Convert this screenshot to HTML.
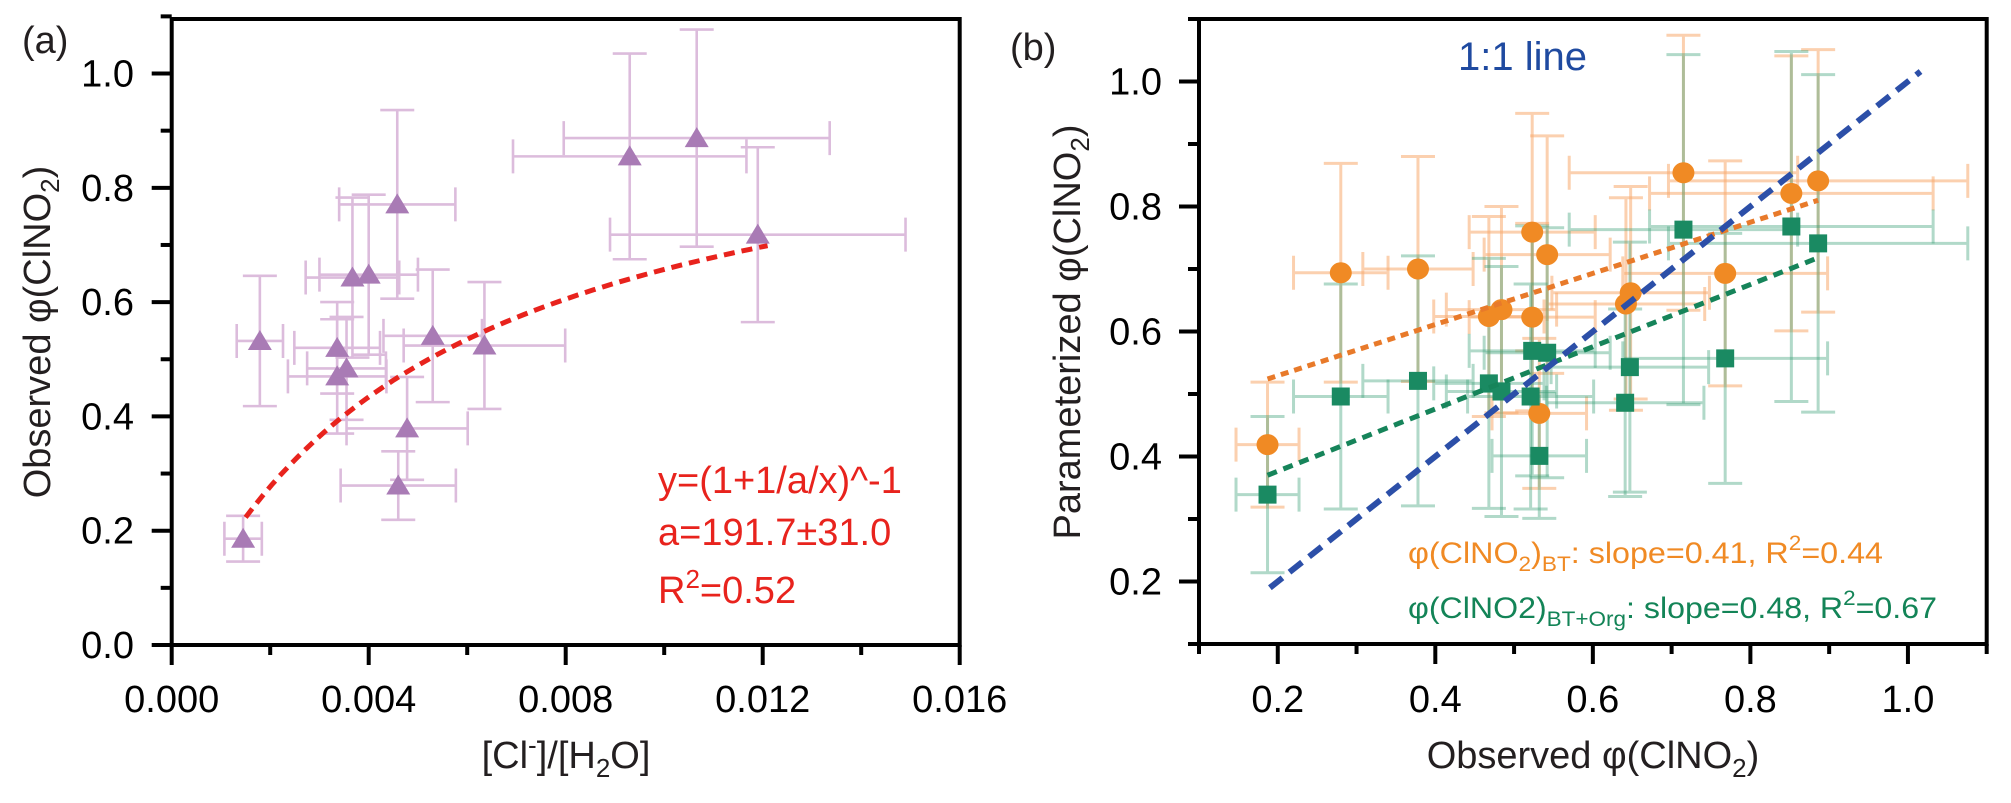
<!DOCTYPE html>
<html><head><meta charset="utf-8"><style>
html,body{margin:0;padding:0;background:#fff;}
svg{display:block;font-family:"Liberation Sans",Arial,sans-serif;}
</style></head><body>
<svg id="fig" width="2011" height="803" viewBox="0 0 2011 803" xmlns="http://www.w3.org/2000/svg">
<g id="pa"></g>
<g id="pb"></g>
</svg>
<script>
// ---------- Panel (a) data ----------
const aX    = [0.00145,0.00179,0.00336,0.00336,0.00355,0.00367,0.0040,0.00458,0.00478,0.0046,0.0053,0.00635,0.0093,0.01066,0.0119];
const aY    = [0.186,0.532,0.52,0.47,0.484,0.643,0.648,0.771,0.379,0.279,0.541,0.524,0.855,0.887,0.718];
const aXErr = [0.00038,0.00047,0.00087,0.001,0.0008,0.00095,0.001,0.00118,0.00123,0.00117,0.001,0.00164,0.00237,0.0027,0.003];
const aYErr = [0.04,0.114,0.08,0.1,0.09,0.14,0.14,0.165,0.09,0.06,0.116,0.111,0.18,0.19,0.153];
const aFitA = 191.7;
const aFitRange = [0.0015,0.0121];
const aXTicks = [0,0.004,0.008,0.012,0.016];
const aXTickLabels = ["0.000","0.004","0.008","0.012","0.016"];
const aYTicks = [0,0.2,0.4,0.6,0.8,1.0];
const aYTickLabels = ["0.0","0.2","0.4","0.6","0.8","1.0"];

// ---------- Panel (b) data ----------
const bObs     = [0.187,0.28,0.378,0.468,0.484,0.523,0.523,0.542,0.532,0.642,0.648,0.715,0.768,0.852,0.886];
const bBT      = [0.419,0.694,0.70,0.624,0.635,0.759,0.623,0.723,0.469,0.644,0.662,0.854,0.693,0.821,0.841];
const bBTErr   = [0.10,0.175,0.18,0.16,0.165,0.19,0.15,0.19,0.12,0.17,0.17,0.22,0.18,0.22,0.21];
const bObsGX   = [0.187,0.28,0.378,0.468,0.484,0.523,0.542,0.521,0.532,0.641,0.647,0.715,0.768,0.852,0.886];
const bOrg     = [0.339,0.496,0.521,0.517,0.504,0.569,0.566,0.496,0.401,0.486,0.543,0.763,0.557,0.768,0.741];
const bOrgErr  = [0.125,0.18,0.2,0.2,0.2,0.2,0.2,0.18,0.1,0.15,0.2,0.28,0.2,0.28,0.27];
const bXErr    = [0.04,0.06,0.07,0.07,0.07,0.08,0.08,0.08,0.06,0.1,0.1,0.145,0.13,0.18,0.19];
const bFitBTX  = [0.187,0.886];
const bFitBTY  = [0.524,0.81];
const bFitOrgX = [0.187,0.886];
const bFitOrgY = [0.37,0.718];
const bOneX    = [0.19,1.016];
const bTicks   = [0.2,0.4,0.6,0.8,1.0];
const bTickLabels = ["0.2","0.4","0.6","0.8","1.0"];

const NS="http://www.w3.org/2000/svg";
function mk(parent,tag,attrs){const e=document.createElementNS(NS,tag);for(const k in attrs)e.setAttribute(k,attrs[k]);parent.appendChild(e);return e;}

// ---------- Panel a axes ----------
const A={l:171.7,r:959.7,t:19,b:645,x0:0,x1:0.016,y0:0,y1:1.0954};
const ax=v=>A.l+(v-A.x0)/(A.x1-A.x0)*(A.r-A.l);
const ay=v=>A.b-(v-A.y0)/(A.y1-A.y0)*(A.b-A.t);
const pa=document.getElementById('pa');

// error bars
const aErrG=mk(pa,'g',{stroke:'#dcbcdc','stroke-width':2.6,fill:'none'});


for(let i=0;i<aX.length;i++){
  const cx=ax(aX[i]),cy=ay(aY[i]);
  const x1=ax(aX[i]-aXErr[i]),x2=ax(aX[i]+aXErr[i]),y1=ay(aY[i]+aYErr[i]),y2=ay(aY[i]-aYErr[i]);
  const p=mk(aErrG,'path',{d:`M${cx},${y1}V${y2}M${cx-17},${y1}h34M${cx-17},${y2}h34M${x1},${cy}H${x2}M${x1},${cy-17}v34M${x2},${cy-17}v34`});
  
  
}
// fit curve
let fd='';
for(let k=0;k<=60;k++){const x=aFitRange[0]+(aFitRange[1]-aFitRange[0])*k/60;const y=1/(1+1/(aFitA*x));fd+=(k?'L':'M')+ax(x).toFixed(1)+','+ay(y).toFixed(1);}
const fc=mk(pa,'path',{d:fd,stroke:'#e8231d','stroke-width':5,fill:'none','stroke-dasharray':'11 7'});


// triangles
for(let i=0;i<aX.length;i++){
  const cx=ax(aX[i]),cy=ay(aY[i]);
  const t=mk(pa,'path',{d:`M${cx},${cy-11}L${cx+12},${cy+9}L${cx-12},${cy+9}Z`,fill:'#a97bb5'});
  
  
}
// frame
const fa=mk(pa,'rect',{x:A.l,y:A.t,width:A.r-A.l,height:A.b-A.t,fill:'none',stroke:'#000','stroke-width':4});


for(let i=0;i<aXTicks.length;i++){
  const x=ax(aXTicks[i]);
  mk(pa,'line',{x1:x,y1:A.b,x2:x,y2:A.b+20,stroke:'#000','stroke-width':4});
  if(i<aXTicks.length-1){const m=ax((aXTicks[i]+aXTicks[i+1])/2);mk(pa,'line',{x1:m,y1:A.b,x2:m,y2:A.b+10,stroke:'#000','stroke-width':4});}
  const tl=mk(pa,'text',{x:x,y:712,'font-size':38,'text-anchor':'middle'});tl.textContent=aXTickLabels[i];
  
  
}
for(let i=0;i<aYTicks.length;i++){
  const y=ay(aYTicks[i]);
  mk(pa,'line',{x1:A.l-20,y1:y,x2:A.l,y2:y,stroke:'#000','stroke-width':4});
  const m=ay(aYTicks[i]+0.1);mk(pa,'line',{x1:A.l-11,y1:m,x2:A.l,y2:m,stroke:'#000','stroke-width':4});
  const tl=mk(pa,'text',{x:134,y:y+13,'font-size':38,'text-anchor':'end'});tl.textContent=aYTickLabels[i];
  
  
}

// ---------- Panel b axes ----------
const B={l:1199,r:1986.7,t:19,b:644,x0:0.1,x1:1.1,y0:0.1,y1:1.1};
const bx=v=>B.l+(v-B.x0)/(B.x1-B.x0)*(B.r-B.l);
const by=v=>B.b-(v-B.y0)/(B.y1-B.y0)*(B.b-B.t);
const pb=document.getElementById('pb');
function errs(xs,ys,ye,col,name){
  const g=mk(pb,'g',{stroke:col,'stroke-width':3,fill:'none'});
  for(let i=0;i<xs.length;i++){
    const cx=bx(xs[i]),cy=by(ys[i]);
    const x1=bx(xs[i]-bXErr[i]),x2=bx(xs[i]+bXErr[i]),y1=by(ys[i]+ye[i]),y2=by(ys[i]-ye[i]);
    const p=mk(g,'path',{d:`M${cx},${y1}V${y2}M${cx-17},${y1}h34M${cx-17},${y2}h34M${x1},${cy}H${x2}M${x1},${cy-17}v34M${x2},${cy-17}v34`});
    
    
  }
}
errs(bObs,bBT,bBTErr,'rgba(247,170,110,0.55)','error-bar-bt');
errs(bObsGX,bOrg,bOrgErr,'rgba(60,160,120,0.4)','error-bar-bt-org');
function dline(xs,ys,col,w,dash,name){
  const l=mk(pb,'line',{x1:bx(xs[0]),y1:by(ys[0]),x2:bx(xs[1]),y2:by(ys[1]),stroke:col,'stroke-width':w,'stroke-dasharray':dash});
  
  
}
for(let i=0;i<bObs.length;i++){
  const c=mk(pb,'ellipse',{cx:bx(bObs[i]),cy:by(bBT[i]),rx:11,ry:10.5,fill:'#f08a24'});
  
  
}
for(let i=0;i<bObsGX.length;i++){
  const s=mk(pb,'rect',{x:bx(bObsGX[i])-9,y:by(bOrg[i])-9,width:18,height:18,fill:'#1a8a62'});
  
  
}
dline(bFitBTX,bFitBTY,'#e87a2a',5,'8 6','fit-line-bt');
dline(bFitOrgX,bFitOrgY,'#16845a',5,'10 7','fit-line-bt-org');
dline(bOneX,bOneX,'#2c4fa8',6,'16 9','one-to-one-line');
const fb=mk(pb,'rect',{x:B.l,y:B.t,width:B.r-B.l,height:B.b-B.t,fill:'none',stroke:'#000','stroke-width':4});


for(let v=0.1;v<1.15;v+=0.1){
  const vv=Math.round(v*10)/10;const major=Math.abs(vv*10%2)<0.01;
  const x=bx(vv),y=by(vv);
  mk(pb,'line',{x1:x,y1:B.b,x2:x,y2:B.b+(major?20:10),stroke:'#000','stroke-width':4});
  mk(pb,'line',{x1:B.l-(major?20:11),y1:y,x2:B.l,y2:y,stroke:'#000','stroke-width':4});
}
for(let i=0;i<bTicks.length;i++){
  const tx=mk(pb,'text',{x:bx(bTicks[i]),y:712,'font-size':38,'text-anchor':'middle'});tx.textContent=bTickLabels[i];
  
  
  const ty=mk(pb,'text',{x:1162,y:by(bTicks[i])+13,'font-size':38,'text-anchor':'end'});ty.textContent=bTickLabels[i];
  
  
}
</script>
<svg width="0" height="0"></svg>
<script>
// static text overlays
const f=document.getElementById('fig');
f.insertAdjacentHTML('beforeend',`
<text x="22" y="53" font-size="38" fill="#231f20">(a)</text>
<text x="1010" y="60" font-size="38" fill="#231f20">(b)</text>
<text transform="translate(50,332) rotate(-90)" text-anchor="middle" font-size="38" fill="#231f20">Observed φ(ClNO<tspan font-size="26" dy="9">2</tspan><tspan dy="-9">)</tspan></text>
<text transform="translate(1080,332) rotate(-90)" text-anchor="middle" font-size="38" fill="#231f20">Parameterized φ(ClNO<tspan font-size="26" dy="9">2</tspan><tspan dy="-9">)</tspan></text>
<text x="566" y="768" text-anchor="middle" font-size="38" fill="#231f20">[Cl<tspan font-size="26" dy="-14">-</tspan><tspan dy="14">]/[H</tspan><tspan font-size="26" dy="9">2</tspan><tspan dy="-9">O]</tspan></text>
<text x="1593" y="768" text-anchor="middle" font-size="38" fill="#231f20">Observed φ(ClNO<tspan font-size="26" dy="9">2</tspan><tspan dy="-9">)</tspan></text>
<g fill="#e8231d" font-size="38">
<text x="658" y="493">y=(1+1/a/x)^-1</text>
<text x="658" y="545">a=191.7±31.0</text>
<text x="658" y="603">R<tspan font-size="26" dy="-15">2</tspan><tspan dy="15">=0.52</tspan></text>
</g>
<text x="1458" y="70" font-size="40" fill="#1f4aa0">1:1 line</text>
<text x="1408" y="563" font-size="30" fill="#f08a24" textLength="475" lengthAdjust="spacingAndGlyphs">φ(ClNO<tspan font-size="21" dy="8">2</tspan><tspan dy="-8">)</tspan><tspan font-size="21" dy="8">BT</tspan><tspan dy="-8">: slope=0.41, R</tspan><tspan font-size="21" dy="-13">2</tspan><tspan dy="13">=0.44</tspan></text>
<text x="1408" y="618" font-size="30" fill="#138457" textLength="529" lengthAdjust="spacingAndGlyphs">φ(ClNO2)<tspan font-size="21" dy="8">BT+Org</tspan><tspan dy="-8">: slope=0.48, R</tspan><tspan font-size="21" dy="-13">2</tspan><tspan dy="13">=0.67</tspan></text>
`);
</script>
</body></html>
